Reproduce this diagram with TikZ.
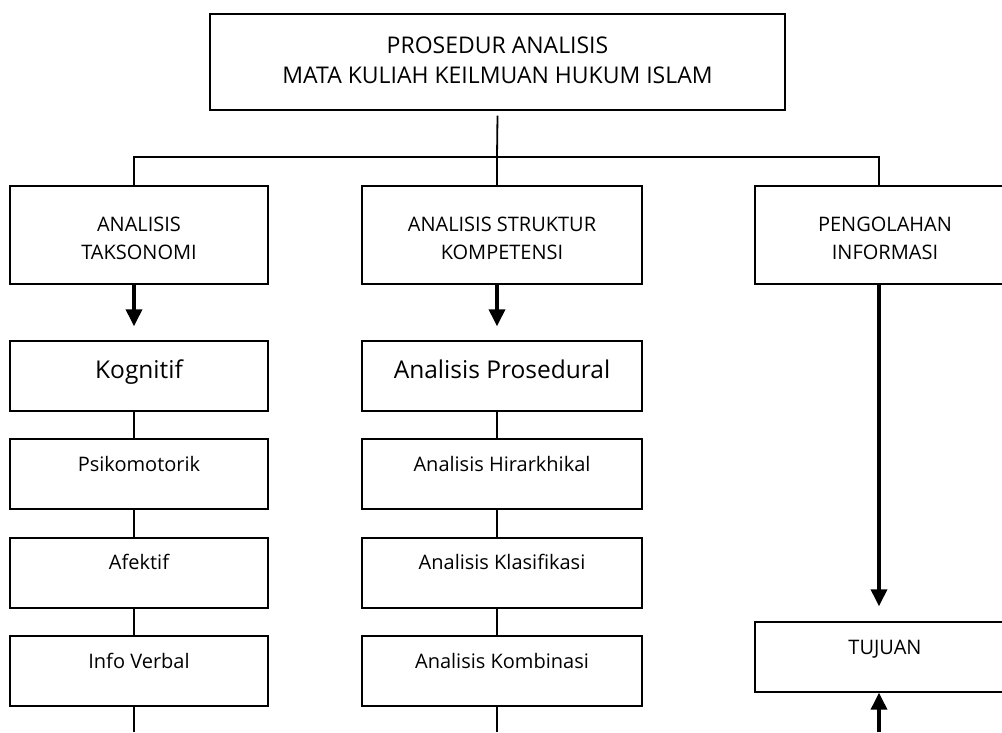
\documentclass[tikz,border=0pt]{standalone}
\usepackage{fontspec}
\setmainfont{Open Sans}
\usetikzlibrary{arrows.meta}
\begin{document}
\begin{tikzpicture}[x=1pt,y=-1pt,
  box/.style={draw, line width=1.4pt, rectangle, inner sep=0pt},
  conn/.style={line width=1.8pt},
  bigarrow/.style={line width=3.5pt, -{Triangle[width=16pt,length=17pt]}},
  headtxt/.style={anchor=base, font=\fontsize{23}{27}\selectfont, inner sep=0pt},
  txt/.style={anchor=base, font=\fontsize{20}{24}\selectfont, inner sep=0pt},
  bigtxt/.style={anchor=base, font=\fontsize{24.5}{29}\selectfont, inner sep=0pt}]
\useasboundingbox (0,0) rectangle (1002,732);
\fill[white] (0,0) rectangle (1002,732);

% top
\node[box, minimum width=575pt, minimum height=96pt] (top) at (497.5,62) {};
\node[headtxt] (t1) at (497.5,53) {PROSEDUR ANALISIS};
\node[headtxt] (t2) at (497.5,83) {MATA KULIAH KEILMUAN HUKUM ISLAM};

% level 2
\node[box, minimum width=258pt, minimum height=98pt] (taks) at (139,235) {};
\node[txt] (taks1) at (139,231) {ANALISIS};
\node[txt] (taks2) at (139,259) {TAKSONOMI};
\node[box, minimum width=280pt, minimum height=98pt] (struk) at (502,235) {};
\node[txt] (struk1) at (502,231) {ANALISIS STRUKTUR};
\node[txt] (struk2) at (502,259) {KOMPETENSI};
\node[box, minimum width=260pt, minimum height=98pt] (peng) at (885,235) {};
\node[txt] (peng1) at (885,231) {PENGOLAHAN};
\node[txt] (peng2) at (885,259) {INFORMASI};

\coordinate (hub) at (497,157);
\draw[conn] ([yshift=-5pt]top.south) -- (hub);
\draw[conn] ([xshift=-5pt]taks.north) |- (hub) -| ([xshift=-6pt]peng.north);
\draw[conn] (hub) -- ([xshift=-5pt]struk.north);

% left column
\node[box, minimum width=258pt, minimum height=70pt] (kog) at (139,376) {};
\node[bigtxt] (kogt) at (139,378) {Kognitif};
\node[box, minimum width=258pt, minimum height=70pt] (psi) at (139,474) {};
\node[txt] (psit) at (139,471) {Psikomotorik};
\node[box, minimum width=258pt, minimum height=70pt] (afe) at (139,573) {};
\node[txt] (afet) at (139,569) {Afektif};
\node[box, minimum width=258pt, minimum height=70pt] (inf) at (139,671) {};
\node[txt] (inft) at (139,668) {Info Verbal};
\coordinate (endL) at (134,732);

\draw[bigarrow] ([xshift=-5pt]taks.south) -- ([xshift=-5pt,yshift=14pt]kog.north);
\draw[conn] ([xshift=-5pt]kog.south) -- ([xshift=-5pt]psi.north);
\draw[conn] ([xshift=-5pt]psi.south) -- ([xshift=-5pt]afe.north);
\draw[conn] ([xshift=-5pt]afe.south) -- ([xshift=-5pt]inf.north);
\draw[conn] ([xshift=-5pt]inf.south) -- (endL);

% middle column
\node[box, minimum width=280pt, minimum height=70pt] (pro) at (502,376) {};
\node[bigtxt] (prot) at (502,378) {Analisis Prosedural};
\node[box, minimum width=280pt, minimum height=70pt] (hir) at (502,474) {};
\node[txt] (hirt) at (502,471) {Analisis Hirarkhikal};
\node[box, minimum width=280pt, minimum height=70pt] (kla) at (502,573) {};
\node[txt] (klat) at (502,569) {Analisis Klasifikasi};
\node[box, minimum width=280pt, minimum height=70pt] (kom) at (502,671) {};
\node[txt] (komt) at (502,668) {Analisis Kombinasi};
\coordinate (endM) at (497,732);

\draw[bigarrow] ([xshift=-5pt]struk.south) -- ([xshift=-5pt,yshift=14pt]pro.north);
\draw[conn] ([xshift=-5pt]pro.south) -- ([xshift=-5pt]hir.north);
\draw[conn] ([xshift=-5pt]hir.south) -- ([xshift=-5pt]kla.north);
\draw[conn] ([xshift=-5pt]kla.south) -- ([xshift=-5pt]kom.north);
\draw[conn] ([xshift=-5pt]kom.south) -- (endM);

% right column
\node[box, minimum width=260pt, minimum height=70pt] (tuj) at (885,657) {};
\node[txt] (tujt) at (885,654) {TUJUAN};
\coordinate (endR) at (879,732);
\draw[bigarrow] ([xshift=-6pt]peng.south) -- ([xshift=-6pt,yshift=15pt]tuj.north);
\draw[bigarrow] (endR) -- ([xshift=-6pt]tuj.south);
\end{tikzpicture}
\end{document}
